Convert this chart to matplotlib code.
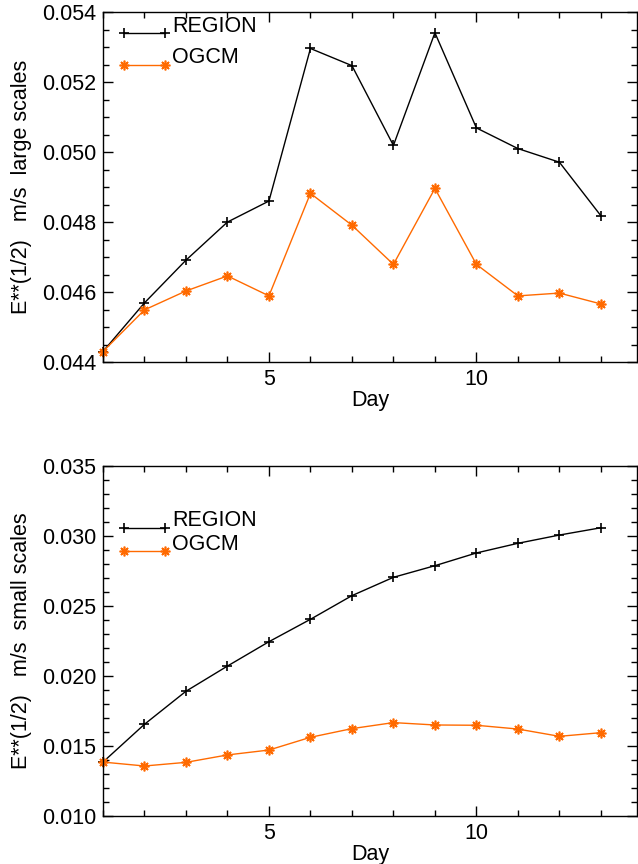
import matplotlib.pyplot as plt
from matplotlib.ticker import MultipleLocator

plt.rcParams['font.family'] = ['Liberation Sans', 'DejaVu Sans']
plt.rcParams['font.size'] = 15.5

days = [1, 2, 3, 4, 5, 6, 7, 8, 9, 10, 11, 12, 13]

# large scales
region_large = [0.0443, 0.04569, 0.04691, 0.0480, 0.0486, 0.05296, 0.05247,
                0.05019, 0.05341, 0.05069, 0.0501, 0.04971, 0.04818]
ogcm_large = [0.0443, 0.04549, 0.04603, 0.04646, 0.04589, 0.04882, 0.04791,
              0.04679, 0.04896, 0.04679, 0.04589, 0.04597, 0.04566]

# small scales
region_small = [0.01385, 0.01655, 0.01891, 0.02071, 0.02245, 0.02405, 0.02574,
                0.02705, 0.02788, 0.02879, 0.02948, 0.03007, 0.03059]
ogcm_small = [0.01385, 0.01357, 0.01383, 0.01436, 0.01471, 0.01562, 0.01624,
              0.01667, 0.0165, 0.01648, 0.01621, 0.01569, 0.01595]

orange = '#ff6a00'
aster = (8, 2, 0)
fs = 15.5

fig = plt.figure(figsize=(6.38, 8.64), dpi=100)
ax1 = fig.add_axes([0.1614, 0.581, 0.837, 0.405])
ax2 = fig.add_axes([0.1614, 0.0556, 0.837, 0.405])


def style(ax, ymin, ymax, major, minor, ylabel, leg_y):
    ax.set_xlim(1, 13.87)
    ax.set_ylim(ymin, ymax)
    ax.xaxis.set_major_locator(MultipleLocator(5))
    ax.xaxis.set_minor_locator(MultipleLocator(1))
    ax.yaxis.set_major_locator(MultipleLocator(major))
    ax.yaxis.set_minor_locator(MultipleLocator(minor))
    ax.yaxis.set_major_formatter(plt.FormatStrFormatter('%.3f'))
    ax.tick_params(which='both', direction='in', top=True, right=True,
                   width=1, labelsize=fs)
    ax.tick_params(which='major', length=7, pad=5)
    ax.tick_params(which='minor', length=4)
    ax.set_xlabel('Day', fontsize=fs, labelpad=0)
    ax.set_ylabel(ylabel, fontsize=fs, labelpad=7)
    for s in ax.spines.values():
        s.set_linewidth(1)
    # hand-made legend, text sits a bit above the line
    tr = ax.transAxes
    ax.plot([0.039, 0.117], [leg_y[0], leg_y[0]], color='black', lw=1,
            marker='+', ms=6.5, mew=1.2, transform=tr, clip_on=False)
    ax.text(0.13, leg_y[0] + 0.02, 'REGION', transform=tr, fontsize=fs,
            va='center')
    ax.plot([0.039, 0.117], [leg_y[1], leg_y[1]], color=orange, lw=1,
            marker=aster, ms=7, mew=1.2, transform=tr, clip_on=False)
    ax.text(0.13, leg_y[1] + 0.02, 'OGCM', transform=tr, fontsize=fs,
            va='center')


ax1.plot(days, region_large, color='black', lw=1, marker='+', ms=6.5, mew=1.2,
         clip_on=False)
ax1.plot(days, ogcm_large, color=orange, lw=1, marker=aster, ms=7, mew=1.2,
         clip_on=False)
style(ax1, 0.044, 0.054, 0.002, 0.0005, 'E**(1/2)   m/s  large scales',
      (0.94, 0.849))

ax2.plot(days, region_small, color='black', lw=1, marker='+', ms=6.5, mew=1.2,
         clip_on=False)
ax2.plot(days, ogcm_small, color=orange, lw=1, marker=aster, ms=7, mew=1.2,
         clip_on=False)
style(ax2, 0.010, 0.035, 0.005, 0.001, 'E**(1/2)   m/s  small scales',
      (0.823, 0.757))

fig.savefig('out.png', dpi=100)
